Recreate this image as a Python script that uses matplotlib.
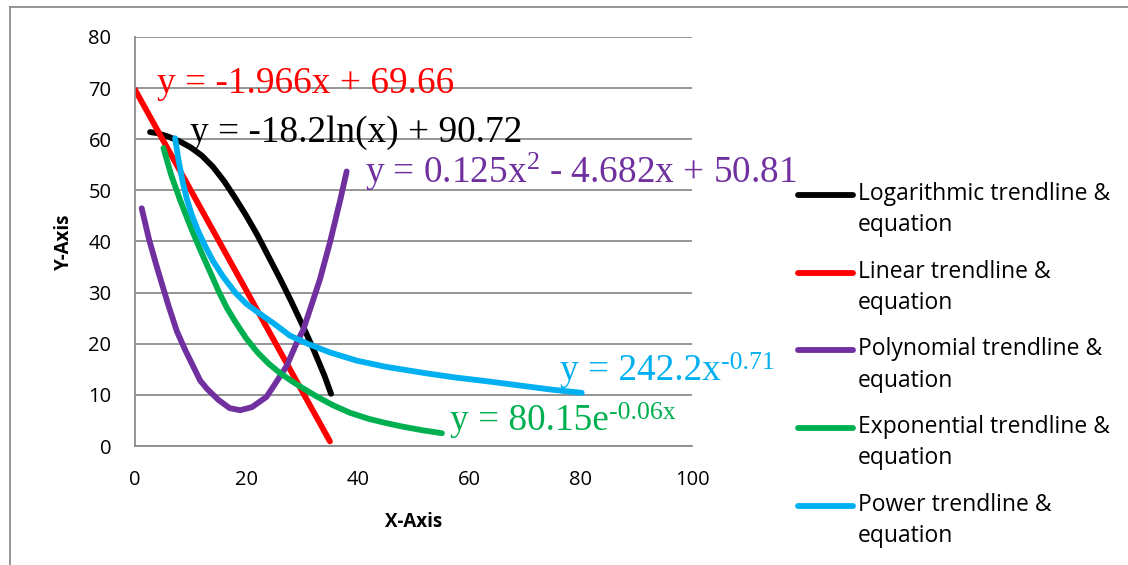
import matplotlib.pyplot as plt
from matplotlib.lines import Line2D
from matplotlib.legend_handler import HandlerLine2D

plt.rcParams['font.family'] = ['Open Sans', 'DejaVu Sans']
plt.rcParams['mathtext.fontset'] = 'custom'
plt.rcParams['mathtext.rm'] = 'Liberation Serif'
plt.rcParams['mathtext.it'] = 'Liberation Serif:italic'

# data
log_x = [2.7, 4, 6, 8, 10, 12, 14, 16, 18, 20, 22, 24, 26, 28, 30, 32, 34, 35.2]
log_y = [61.4, 61.2, 60.5, 59.6, 58.4, 56.8, 54.6, 51.8, 48.5, 45, 41.2, 37, 32.8, 28.4, 23.8, 19, 13.8, 10.2]

lin_x = [0, 35]
lin_y = [69.7, 0.9]

poly_x = [1.2, 2.5, 3.9, 6, 7.5, 9, 11.7, 13, 15, 17, 18.9, 21, 23.6, 25, 27.2, 29, 30.2, 32, 33.2, 35, 36.8, 38.0]
poly_y = [46.5, 40.5, 35.1, 27.5, 22.5, 18.8, 12.8, 11.1, 9.0, 7.4, 7.0, 7.6, 9.6, 11.9, 15.6, 20.1, 22.7, 28.6, 32.6, 39.8, 47.9, 53.7]

exp_x = [5.1, 6.5, 8.1, 10, 11.7, 13.5, 15, 16.5, 18, 20, 22, 24, 26, 28, 30, 32.6, 35.5, 38.6, 42, 45, 48, 51.5, 55.1]
exp_y = [58.3, 53, 48.1, 42.8, 38.4, 34, 30.3, 27, 24.3, 21.0, 18.3, 16.1, 14.3, 12.8, 11.4, 9.7, 8.0, 6.5, 5.3, 4.5, 3.8, 3.1, 2.5]

pow_x = [7.2, 7.8, 8.5, 9.3, 10.2, 11.2, 12.5, 14, 15.9, 18, 20, 22.5, 25, 27.8, 31, 35,
         39.8, 45, 51.8, 57.5, 63.7, 70, 75, 80.2]
pow_y = [60.2, 56, 52, 48.3, 45.2, 42.4, 39.3, 36.2, 33.0, 30.0, 27.8, 25.8, 23.9, 21.6, 20.0, 18.3,
         16.7, 15.5, 14.3, 13.4, 12.6, 11.7, 11.0, 10.4]


class FirstLineHandler(HandlerLine2D):
    # put the legend line next to the first text line, like Excel does
    def create_artists(self, legend, orig_handle, xdescent, ydescent, width, height, fontsize, trans):
        arts = super().create_artists(legend, orig_handle, xdescent, ydescent, width, height, fontsize, trans)
        for a in arts:
            a.set_ydata([v + 0.68 * fontsize for v in a.get_ydata()])
        return arts


fig = plt.figure(figsize=(11.28, 5.65), dpi=100)
ax = fig.add_axes([135 / 1128, 119 / 565, 557 / 1128, 409 / 565])

lw = 4.2
ax.plot(log_x, log_y, color='black', lw=lw, solid_capstyle='round', label='Logarithmic trendline &\nequation')
ax.plot(lin_x, lin_y, color='#FF0000', lw=lw, solid_capstyle='round', label='Linear trendline &\nequation')
ax.plot(poly_x, poly_y, color='#7030A0', lw=lw, solid_capstyle='round', label='Polynomial trendline &\nequation')
ax.plot(exp_x, exp_y, color='#00B050', lw=lw, solid_capstyle='round', label='Exponential trendline &\nequation')
ax.plot(pow_x, pow_y, color='#00B0F0', lw=lw, solid_capstyle='round', label='Power trendline &\nequation')

# equations
eq = dict(family='Liberation Serif', fontsize=26.8, va='baseline', ha='left')
sup = dict(family='Liberation Serif', fontsize=18.5, va='top', ha='left',
           xy=(1, 1), xytext=(0, 1), textcoords='offset points')
ax.text(3.95, 69.05, 'y = -1.966x + 69.66', color='#FF0000', **eq)
ax.text(9.9, 59.5, 'y = -18.2ln(x) + 90.72', color='black', **eq)
ax.text(41.3, 51.4, 'y = 0.125x$^{2}$ - 4.682x + 50.81', color='#7030A0', **eq)
t_pow = ax.text(76.3, 12.9, 'y = 242.2x', color='#00B0F0', **eq)
ax.annotate('-0.71', xycoords=t_pow, color='#00B0F0', **sup)
t_exp = ax.text(56.55, 3.1, 'y = 80.15e', color='#00B050', **eq)
ax.annotate('-0.06x', xycoords=t_exp, color='#00B050', **sup)

ax.set_xlim(0, 100)
ax.set_ylim(0, 80)
ax.set_xticks([0, 20, 40, 60, 80, 100])
ax.set_yticks(range(0, 81, 10))
ax.grid(axis='y', color='#8C8C8C', lw=1.3)
ax.set_axisbelow(True)
for s in ['top', 'right']:
    ax.spines[s].set_visible(False)
for s in ['left', 'bottom']:
    ax.spines[s].set_color('#8C8C8C')
    ax.spines[s].set_linewidth(1.3)
ax.tick_params(length=0, labelsize=14.5)
ax.tick_params(axis='y', pad=17)
ax.tick_params(axis='x', pad=17)
ax.set_xlabel('X-Axis', fontsize=13.5, fontweight='bold', labelpad=16)
ax.set_ylabel('Y-Axis', fontsize=13.5, fontweight='bold', labelpad=10)

leg = fig.legend(loc='upper left', bbox_to_anchor=(798 / 1128, 1 - 182 / 565), frameon=False,
                 fontsize=16.5, handlelength=2.4, handletextpad=0.2, labelspacing=0.98,
                 borderpad=0, borderaxespad=0, handler_map={Line2D: FirstLineHandler()})
for t in leg.get_texts():
    t.set_linespacing(1.4)

# chart border (cropped on right and bottom)
fig.add_artist(Line2D([10 / 1128, 1], [1 - 7 / 565, 1 - 7 / 565], color='#8C8C8C', lw=1.3))
fig.add_artist(Line2D([10 / 1128, 10 / 1128], [0, 1 - 7 / 565], color='#8C8C8C', lw=1.3))

fig.savefig('out.png', dpi=100)
